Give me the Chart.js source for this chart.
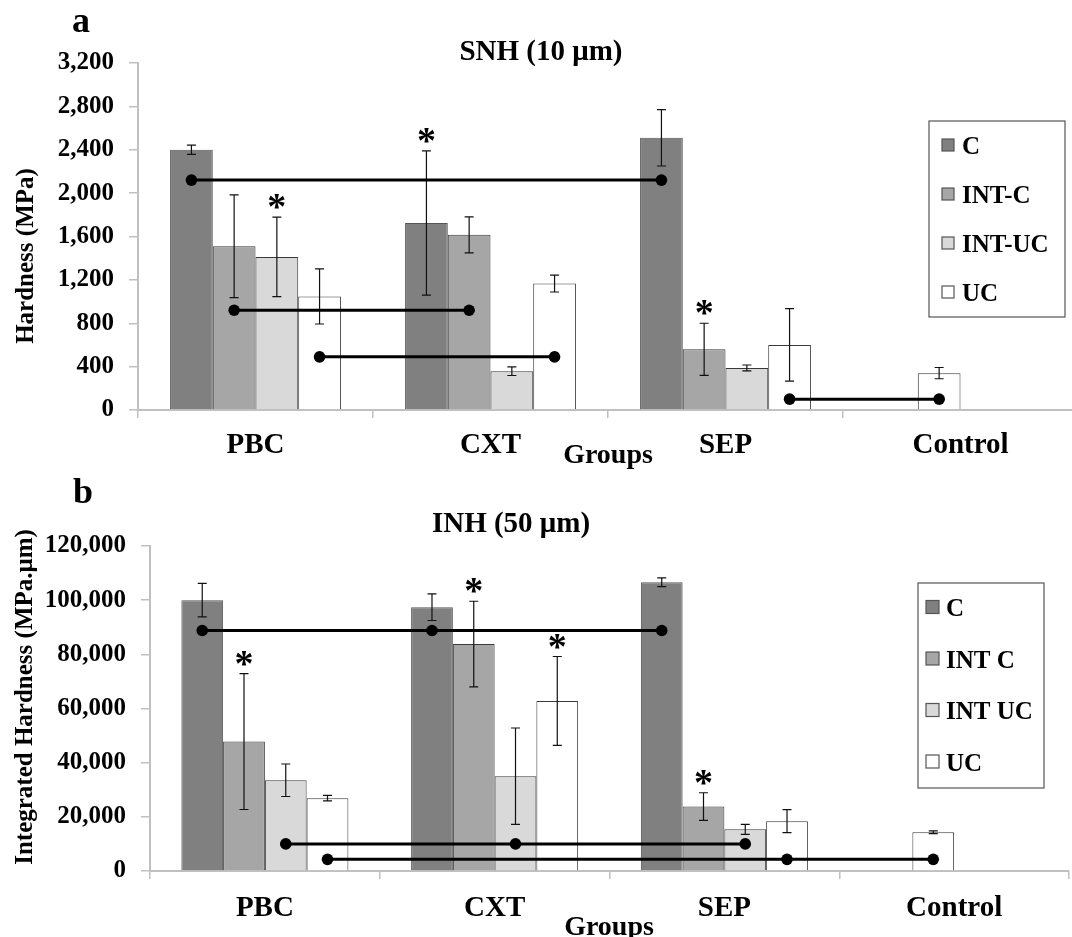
<!DOCTYPE html>
<html>
<head>
<meta charset="utf-8">
<script src="https://cdn.jsdelivr.net/npm/chart.js@4.4.1/dist/chart.umd.min.js"></script>
<style>
  html, body { margin: 0; padding: 0; background: #fff; overflow: hidden; }
  body { width: 1072px; height: 937px; position: relative; }
  #snh { position: absolute; left: 0; top: 0; }
  #inh { position: absolute; left: 0; top: 470px; }
</style>
</head>
<body>
<canvas id="snh" width="1080" height="470"></canvas>
<canvas id="inh" width="1072" height="467"></canvas>
<script>
// Shared categories and series
const groups = ['PBC', 'CXT', 'SEP', 'Control'];
const namesA = ['C', 'INT-C', 'INT-UC', 'UC'];
const namesB = ['C', 'INT C', 'INT UC', 'UC'];
const fills = ['#808080', '#a6a6a6', '#d9d9d9', '#ffffff'];

// Panel a: SNH (10 µm), hardness in MPa
// (the Control bar is stored in the INT-C series, it is drawn in the 2nd slot)
const snhC = [2400, 1725, 2510, null];
const snhIntC = [1510, 1615, 560, 340];
const snhIntUC = [1412, 358, 388, null];
const snhUC = [1047, 1166, 600, null];
const snhErrC = [42, 665, 260, 0];
const snhErrIntC = [473, 166, 240, 52];
const snhErrIntUC = [366, 40, 27, 0];
const snhErrUC = [254, 78, 334, 0];
const snhTicks = [0, 400, 800, 1200, 1600, 2000, 2400, 2800, 3200];
const snhLinks = [
  { y: 2120, at: [['PBC', 0], ['SEP', 0]] },
  { y: 920, at: [['PBC', 1], ['CXT', 1]] },
  { y: 490, at: [['PBC', 3], ['CXT', 3]] },
  { y: 100, at: [['SEP', 3], ['Control', 1]] }
];
const snhStars = [['PBC', 2], ['CXT', 0], ['SEP', 1]];

// Panel b: INH (50 µm), integrated hardness in MPa.µm
const inhC = [100000, 97400, 106600, null];
const inhIntC = [47800, 83800, 23800, 14300];
const inhIntUC = [33500, 35000, 15400, null];
const inhUC = [26900, 62800, 18400, null];
const inhErrC = [6200, 4900, 1600, 0];
const inhErrIntC = [25100, 15800, 5100, 500];
const inhErrIntUC = [6000, 17800, 1850, 0];
const inhErrUC = [1000, 16400, 4250, 0];
const inhTicks = [0, 20000, 40000, 60000, 80000, 100000, 120000];
const inhLinks = [
  { y: 88800, at: [['PBC', 0], ['CXT', 0], ['SEP', 0]] },
  { y: 10000, at: [['PBC', 2], ['CXT', 2], ['SEP', 2]] },
  { y: 4300, at: [['PBC', 3], ['SEP', 3], ['Control', 1]] }
];
const inhStars = [['PBC', 1], ['CXT', 1], ['CXT', 3], ['SEP', 1]];

const serif = '"Liberation Serif", "Times New Roman", serif';

function text(ctx, s, x, y, size, align, rotate) {
  ctx.save();
  ctx.font = 'bold ' + size + 'px ' + serif;
  ctx.fillStyle = '#000';
  ctx.textAlign = align;
  ctx.textBaseline = 'alphabetic';
  ctx.translate(x, y);
  if (rotate) ctx.rotate(-Math.PI / 2);
  ctx.fillText(s, 0, 0);
  ctx.restore();
}

function makePanel(id, p) {
  const datasets = p.values.map(function(vals, k) {
    return {
      label: p.names[k],
      data: vals,
      errors: p.errs[k],
      backgroundColor: groups.map(function(g) { return g === 'Control' ? fills[3] : fills[k]; }),
      legendColor: fills[k],
      borderColor: k === 0 ? '#555555' : '#3a3a3a',
      borderWidth: 1,
      categoryPercentage: 0.727,
      barPercentage: 1
    };
  });

  function barX(chart, g, k) {
    return chart.getDatasetMeta(k).data[groups.indexOf(g)].x;
  }

  const extras = {
    id: 'extras',
    afterDatasetsDraw(chart) {
      const ctx = chart.ctx;
      const y = chart.scales.y;
      // error bars
      ctx.save();
      ctx.strokeStyle = '#111';
      ctx.lineWidth = 1.2;
      chart.data.datasets.forEach(function(ds, k) {
        chart.getDatasetMeta(k).data.forEach(function(bar, i) {
          const v = ds.data[i], e = ds.errors[i];
          if (v == null || !e) return;
          const top = y.getPixelForValue(v + e);
          const bot = y.getPixelForValue(v - e);
          ctx.beginPath();
          ctx.moveTo(bar.x, top); ctx.lineTo(bar.x, bot);
          ctx.moveTo(bar.x - 4.5, top); ctx.lineTo(bar.x + 4.5, top);
          ctx.moveTo(bar.x - 4.5, bot); ctx.lineTo(bar.x + 4.5, bot);
          ctx.stroke();
        });
      });
      ctx.restore();

      // significance links with dots
      ctx.save();
      ctx.strokeStyle = '#000';
      ctx.fillStyle = '#000';
      ctx.lineWidth = 3;
      p.links.forEach(function(link) {
        const py = y.getPixelForValue(link.y);
        const xs = link.at.map(function(a) { return barX(chart, a[0], a[1]); });
        ctx.beginPath();
        ctx.moveTo(xs[0], py);
        ctx.lineTo(xs[xs.length - 1], py);
        ctx.stroke();
        xs.forEach(function(x) {
          ctx.beginPath();
          ctx.arc(x, py, 5.8, 0, Math.PI * 2);
          ctx.fill();
        });
      });
      ctx.restore();

      // asterisks above the error bars
      p.stars.forEach(function(s) {
        const k = s[1], i = groups.indexOf(s[0]);
        const ds = chart.data.datasets[k];
        const top = y.getPixelForValue(ds.data[i] + ds.errors[i]);
        text(ctx, '*', barX(chart, s[0], k), top + 2, 38, 'center');
      });
    },
    afterDraw(chart) {
      const ctx = chart.ctx;
      // legend box
      const L = p.legend;
      ctx.save();
      ctx.strokeStyle = '#555';
      ctx.lineWidth = 1.2;
      ctx.fillStyle = '#fff';
      ctx.fillRect(L.x, L.y, L.w, L.h);
      ctx.strokeRect(L.x, L.y, L.w, L.h);
      chart.data.datasets.forEach(function(ds, k) {
        const cy = L.first + k * L.step;
        ctx.fillStyle = ds.legendColor;
        ctx.fillRect(L.sx, cy - L.sq / 2, L.sq, L.sq);
        ctx.strokeStyle = '#555';
        ctx.strokeRect(L.sx, cy - L.sq / 2, L.sq, L.sq);
        text(ctx, ds.label, L.tx, cy + 9, 25, 'left');
      });
      ctx.restore();

      // panel letter, title, axis titles
      text(ctx, p.letter, p.letterX, p.letterY, 36, 'left');
      text(ctx, p.title, p.titleX, p.titleY, 29, 'center');
      text(ctx, p.yTitle, p.yTitleX, p.yTitleY, 25, 'center', true);
      text(ctx, 'Groups', p.groupsX, p.groupsY, 28, 'center');
    }
  };

  return new Chart(document.getElementById(id), {
    type: 'bar',
    data: { labels: groups, datasets: datasets },
    options: {
      responsive: false,
      animation: false,
      devicePixelRatio: 1,
      layout: { padding: p.padding },
      plugins: { legend: { display: false }, tooltip: { enabled: false }, title: { display: false } },
      scales: {
        x: {
          offset: true,
          grid: { offset: true, drawOnChartArea: false, drawTicks: true, tickLength: 8, color: '#c0c0c0', lineWidth: 1.5 },
          border: { color: '#c0c0c0', width: 2 },
          ticks: { color: '#000', padding: p.xPad, maxRotation: 0, font: { family: serif, weight: 'bold', size: 29 } },
          afterFit: function(s) { s.height = p.xH; }
        },
        y: {
          min: p.ticks[0],
          max: p.ticks[p.ticks.length - 1],
          afterBuildTicks: function(s) { s.ticks = p.ticks.map(function(v) { return { value: v }; }); },
          grid: { drawOnChartArea: false, drawTicks: true, tickLength: 9, color: '#c0c0c0', lineWidth: 1.5 },
          border: { color: '#c0c0c0', width: 2 },
          ticks: {
            color: '#000', padding: 15,
            font: { family: serif, weight: 'bold', size: 25 },
            callback: function(v) { return v.toLocaleString('en-US'); }
          },
          afterFit: function(s) { s.width = p.yW; }
        }
      }
    },
    plugins: [extras]
  });
}

makePanel('snh', {
  names: namesA,
  values: [snhC, snhIntC, snhIntUC, snhUC],
  errs: [snhErrC, snhErrIntC, snhErrIntUC, snhErrUC],
  ticks: snhTicks,
  links: snhLinks,
  stars: snhStars,
  padding: { top: 63, right: 2, left: 0, bottom: 0 },
  xH: 60, yW: 138, xPad: 10,
  legend: { x: 929, y: 121, w: 136, h: 196, sx: 942, sq: 12, tx: 962, first: 145, step: 49 },
  letter: 'a', letterX: 72, letterY: 32,
  title: 'SNH (10 μm)', titleX: 541, titleY: 60,
  yTitle: 'Hardness (MPa)', yTitleX: 33, yTitleY: 256,
  groupsX: 608, groupsY: 463
});

makePanel('inh', {
  names: namesB,
  values: [inhC, inhIntC, inhIntUC, inhUC],
  errs: [inhErrC, inhErrIntC, inhErrIntUC, inhErrUC],
  ticks: inhTicks,
  links: inhLinks,
  stars: inhStars,
  padding: { top: 76, right: 3, left: 0, bottom: 0 },
  xH: 66, yW: 150, xPad: 12,
  legend: { x: 918, y: 113, w: 126, h: 205, sx: 926, sq: 13, tx: 946, first: 137, step: 51.5 },
  letter: 'b', letterX: 73, letterY: 33,
  title: 'INH (50 μm)', titleX: 511, titleY: 62,
  yTitle: 'Integrated Hardness (MPa.μm)', yTitleX: 32, yTitleY: 227,
  groupsX: 609, groupsY: 465
});
</script>
</body>
</html>
